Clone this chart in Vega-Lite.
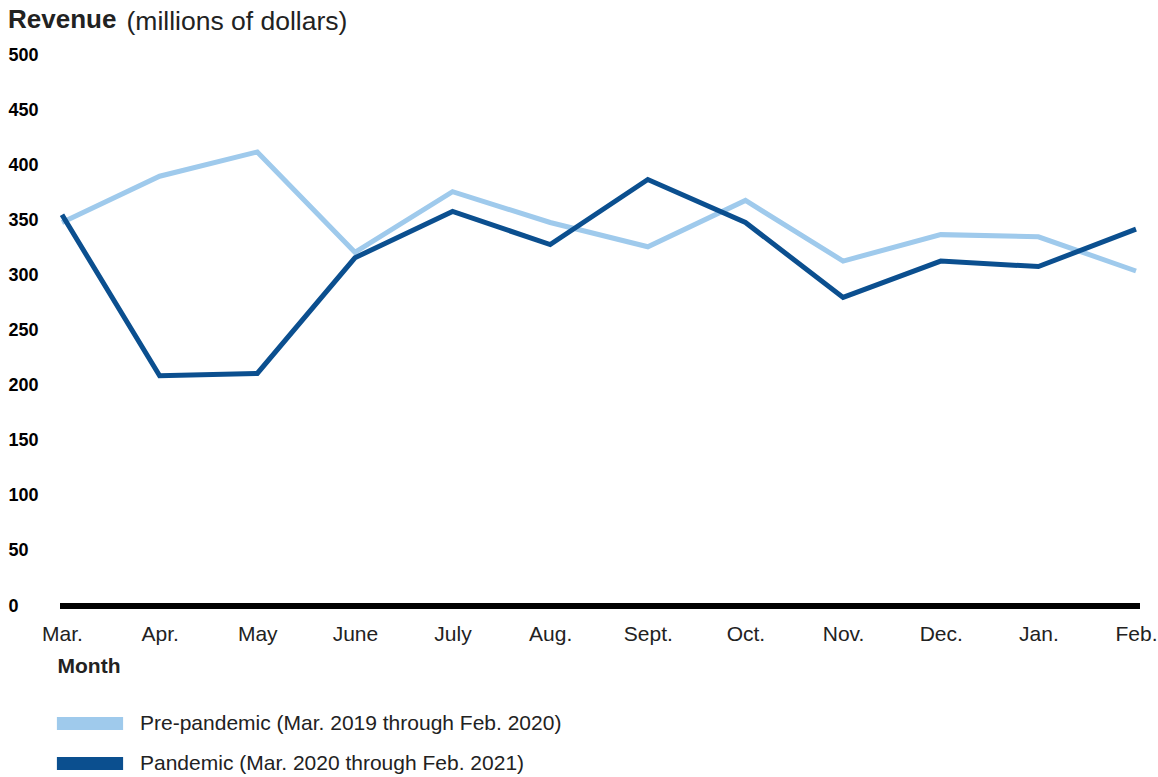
{
  "$schema": "https://vega.github.io/schema/vega-lite/v6.json",
  "width": 1080,
  "height": 551,
  "autosize": {"type": "none"},
  "padding": {"left": 60, "top": 55, "right": 18, "bottom": 171},
  "background": "white",
  "config": {"view": {"stroke": null}, "font": "Liberation Sans"},
  "title": {"text": "Revenue", "anchor": "start", "frame": "group", "font": "Liberation Sans", "fontSize": 26, "fontWeight": "bold", "color": "#222222", "dx": -52, "dy": 46, "offset": 0, "baseline": "alphabetic"},
  "data": {"values": [
    {"month": "Mar.", "period": "Pre-pandemic (Mar. 2019 through Feb. 2020)", "revenue": 348},
    {"month": "Apr.", "period": "Pre-pandemic (Mar. 2019 through Feb. 2020)", "revenue": 390},
    {"month": "May", "period": "Pre-pandemic (Mar. 2019 through Feb. 2020)", "revenue": 412},
    {"month": "June", "period": "Pre-pandemic (Mar. 2019 through Feb. 2020)", "revenue": 321},
    {"month": "July", "period": "Pre-pandemic (Mar. 2019 through Feb. 2020)", "revenue": 376},
    {"month": "Aug.", "period": "Pre-pandemic (Mar. 2019 through Feb. 2020)", "revenue": 348},
    {"month": "Sept.", "period": "Pre-pandemic (Mar. 2019 through Feb. 2020)", "revenue": 326},
    {"month": "Oct.", "period": "Pre-pandemic (Mar. 2019 through Feb. 2020)", "revenue": 368},
    {"month": "Nov.", "period": "Pre-pandemic (Mar. 2019 through Feb. 2020)", "revenue": 313},
    {"month": "Dec.", "period": "Pre-pandemic (Mar. 2019 through Feb. 2020)", "revenue": 337},
    {"month": "Jan.", "period": "Pre-pandemic (Mar. 2019 through Feb. 2020)", "revenue": 335},
    {"month": "Feb.", "period": "Pre-pandemic (Mar. 2019 through Feb. 2020)", "revenue": 304},
    {"month": "Mar.", "period": "Pandemic (Mar. 2020 through Feb. 2021)", "revenue": 355},
    {"month": "Apr.", "period": "Pandemic (Mar. 2020 through Feb. 2021)", "revenue": 209},
    {"month": "May", "period": "Pandemic (Mar. 2020 through Feb. 2021)", "revenue": 211},
    {"month": "June", "period": "Pandemic (Mar. 2020 through Feb. 2021)", "revenue": 316},
    {"month": "July", "period": "Pandemic (Mar. 2020 through Feb. 2021)", "revenue": 358},
    {"month": "Aug.", "period": "Pandemic (Mar. 2020 through Feb. 2021)", "revenue": 328},
    {"month": "Sept.", "period": "Pandemic (Mar. 2020 through Feb. 2021)", "revenue": 387},
    {"month": "Oct.", "period": "Pandemic (Mar. 2020 through Feb. 2021)", "revenue": 348},
    {"month": "Nov.", "period": "Pandemic (Mar. 2020 through Feb. 2021)", "revenue": 280},
    {"month": "Dec.", "period": "Pandemic (Mar. 2020 through Feb. 2021)", "revenue": 313},
    {"month": "Jan.", "period": "Pandemic (Mar. 2020 through Feb. 2021)", "revenue": 308},
    {"month": "Feb.", "period": "Pandemic (Mar. 2020 through Feb. 2021)", "revenue": 342}
  ]},
  "layer": [
    {
      "mark": {"type": "line", "strokeWidth": 5},
      "encoding": {
        "x": {
          "field": "month", "type": "ordinal",
          "sort": ["Mar.", "Apr.", "May", "June", "July", "Aug.", "Sept.", "Oct.", "Nov.", "Dec.", "Jan.", "Feb."],
          "scale": {"type": "point", "padding": 0, "range": [2, 1076]},
          "axis": {
            "title": "Month", "titleFont": "Liberation Sans", "titleFontWeight": "bold", "titleFontSize": 21, "titleColor": "#222222",
            "titleAnchor": "start", "titleAlign": "left", "titleX": -3, "titleY": 60, "titleBaseline": "middle",
            "labelFont": "Liberation Sans", "labelFontSize": 21, "labelColor": "#222222", "labelPadding": 17, "labelAngle": 0,
            "ticks": false, "tickSize": 0, "domain": false, "grid": false
          }
        },
        "y": {
          "field": "revenue", "type": "quantitative",
          "scale": {"domain": [0, 500], "nice": false, "zero": true},
          "axis": {
            "title": "(millions of dollars)", "titleAngle": 0, "titleAlign": "left", "titleBaseline": "alphabetic",
            "titleX": 66, "titleY": -26, "titleFont": "Liberation Sans", "titleFontWeight": "normal", "titleFontSize": 26.5, "titleColor": "#222222",
            "domain": false, "ticks": false, "tickSize": 0, "grid": false,
            "values": [0, 50, 100, 150, 200, 250, 300, 350, 400, 450, 500],
            "labelAlign": "left", "labelPadding": 52, "labelFont": "Liberation Sans", "labelFontWeight": "bold", "labelFontSize": 18, "labelColor": "#000000"
          }
        },
        "color": {
          "field": "period", "type": "nominal",
          "scale": {"domain": ["Pre-pandemic (Mar. 2019 through Feb. 2020)", "Pandemic (Mar. 2020 through Feb. 2021)"], "range": ["#9FCAEC", "#0B4F8F"]},
          "legend": {
            "orient": "none", "legendX": 19.5, "legendY": 658, "title": null, "direction": "vertical",
            "symbolType": "M-6.5,-1.2H6.5V1.2H-6.5Z", "symbolSize": 100, "symbolStrokeWidth": 1.2, "symbolStrokeColor": "#555555",
            "labelFont": "Liberation Sans", "labelFontSize": 21, "labelColor": "#222222", "labelOffset": 39.5, "labelLimit": 0, "rowPadding": 18,
            "encode": {"symbols": {"update": {"fill": {"scale": "color", "field": "value"}, "stroke": {"value": "#555555"}, "strokeWidth": {"value": 1.2}, "opacity": {"value": 1}}}}
          }
        }
      }
    },
    {
      "mark": {"type": "rule", "color": "#000000", "strokeWidth": 5},
      "encoding": {"y": {"datum": 0}}
    }
  ]
}
